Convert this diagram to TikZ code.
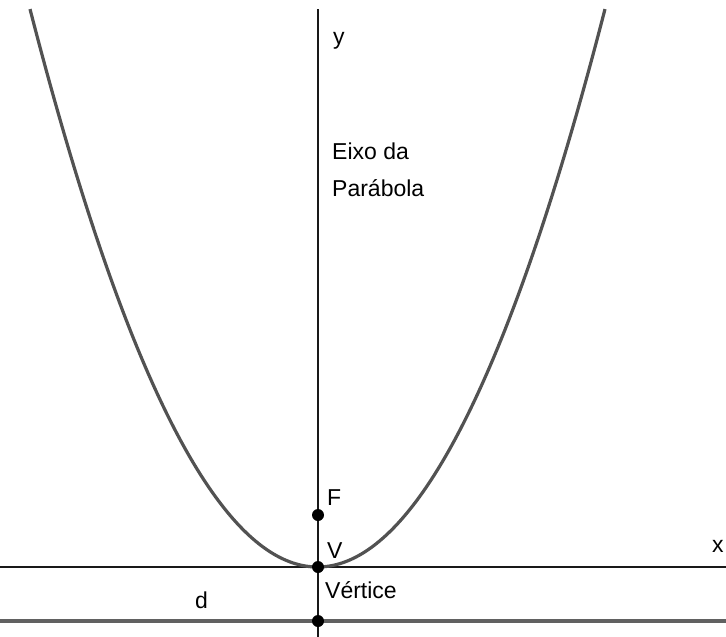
\documentclass[tikz,border=0pt]{standalone}
\usepackage{fontspec}
\setmainfont{Liberation Sans}
\begin{document}
\begin{tikzpicture}[x=1pt,y=-1pt,
  axisline/.style={line width=1.6pt,black!90},
  directrix/.style={line width=3.5pt,black!62},
  curve/.style={line width=3.2pt,black!68},
  dot/.style={circle,fill=black,inner sep=0pt,minimum size=12pt},
  lbl/.style={inner sep=0pt,anchor=base west,font=\fontsize{23}{37}\selectfont}]
\useasboundingbox (0,0) rectangle (726,637);
\clip (0,0) rectangle (726,637);
% coordinates
\coordinate (ytop) at (318,9);
\coordinate (ybot) at (318,637);
\coordinate (xl) at (0,567);
\coordinate (xr) at (726,567);
\coordinate (dl) at (0,621);
\coordinate (dr) at (726,621);
% axes and directrix
\draw[axisline] (xl) -- (xr);
\draw[axisline] (ytop) -- (ybot);
\draw[directrix] (dl) -- (dr);
% parabola
\draw[curve,line join=round] plot[domain=30:605,samples=200] ({\x},{567-0.675*((\x-317.5)/10)^2});
% points
\node[dot] (F) at (318,515) {};
\node[dot] (V) at (318,567) {};
\node[dot] (D) at (318,621) {};
% labels
\node[lbl] (ylab) at (333,45) {y};
\node[lbl] (eixo1) at (332,159) {Eixo da};
\node[lbl] (eixo2) at (332,196) {Parábola};
\node[lbl] (Flab) at (327,505) {F};
\node[lbl] (Vlab) at (327,558) {V};
\node[lbl] (vert) at (325,598) {Vértice};
\node[lbl] (dlab) at (195,608) {d};
\node[lbl] (xlab) at (712,552) {x};
\end{tikzpicture}
\end{document}
